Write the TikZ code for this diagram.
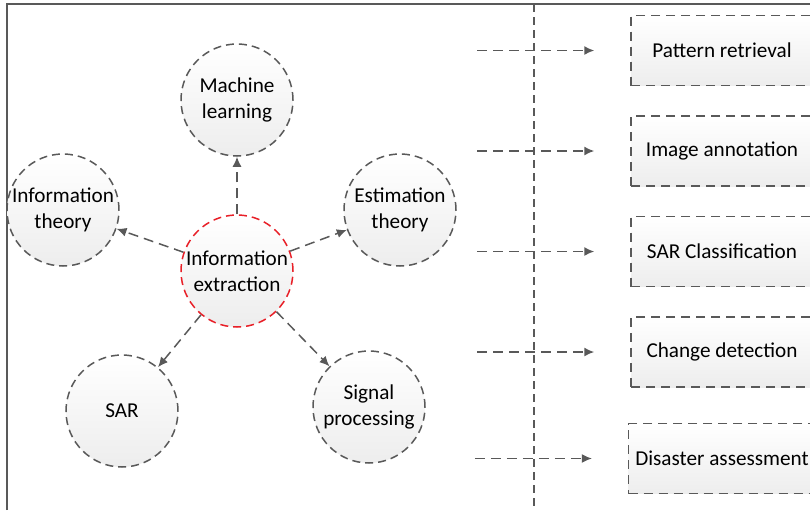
\documentclass[tikz,border=0pt]{standalone}
\usepackage{fontspec}
\setmainfont{Carlito}
\usetikzlibrary{arrows.meta,positioning}
\definecolor{linegray}{RGB}{89,89,89}
\definecolor{focusred}{RGB}{232,32,40}

\begin{document}
\begin{tikzpicture}[x=0.5pt,y=-0.5pt,node distance=14.5pt,
    font=\fontsize{10.6}{12.8}\selectfont,
    flow/.style={draw=linegray, line width=0.75pt, dash pattern=on 5pt off 3pt,
      -{Latex[length=5pt,width=4.5pt]}}]
  \useasboundingbox (0,0) rectangle (810,510);
  % frame and separator
  \draw[linegray, line width=0.6pt] (7,510) -- (7,4) -- (810,4);
  \draw[linegray, line width=0.6pt, dash pattern=on 4pt off 2.5pt] (534,4) -- (534,510);

  \begin{scope}[every node/.style={circle, draw=linegray, line width=0.75pt,
      dash pattern=on 4pt off 2.5pt, minimum size=56pt, inner sep=0pt,
      align=center, top color=white, bottom color=black!7}]
    \node[draw=focusred] (IE) at (237,271) {Information\\extraction};
    \node (ML) at (237,100) {Machine\\learning};
    \node (IT) at (63,210) {Information\\theory};
    \node (ET) at (400,210) {Estimation\\theory};
    \node (SAR) at (122,411) {SAR};
    \node (SP) at (369,407) {Signal\\processing};
  \end{scope}

  \begin{scope}[every edge/.style={flow}]
    \path (IE) edge (ML);
    \path (IE) edge (IT);
    \path (IE) edge (ET);
    \path (IE) edge (SAR);
    \path (IE) edge (SP);
  \end{scope}

  \begin{scope}[every node/.style={rectangle, draw=linegray, line width=0.75pt,
      dash pattern=on 4.5pt off 3pt, minimum width=91pt, minimum height=35pt,
      top color=white, bottom color=black!7}]
    \node (PR) at (722,50.5) {Pattern retrieval};
    \node (IA) [below=of PR] {Image annotation};
    \node (SC) [below=of IA] {SAR Classification};
    \node (CD) [below=of SC] {Change detection};
    \node (DA) [below=17.5pt of CD] {Disaster assessment};
  \end{scope}

  \coordinate (s1) at ([xshift=-76.5pt]PR.west);
  \coordinate (e1) at ([xshift=-18pt]PR.west);
  \coordinate (s2) at ([xshift=-76.5pt]IA.west);
  \coordinate (e2) at ([xshift=-18pt]IA.west);
  \coordinate (s3) at ([xshift=-76.5pt]SC.west);
  \coordinate (e3) at ([xshift=-18pt]SC.west);
  \coordinate (s4) at ([xshift=-76.5pt]CD.west);
  \coordinate (e4) at ([xshift=-18pt]CD.west);
  \coordinate (s5) at ([xshift=-76.5pt]DA.west);
  \coordinate (e5) at ([xshift=-18pt]DA.west);
  \draw[flow] (s1) -- (e1);
  \draw[flow] (s2) -- (e2);
  \draw[flow] (s3) -- (e3);
  \draw[flow] (s4) -- (e4);
  \draw[flow] (s5) -- (e5);
\end{tikzpicture}
\end{document}
